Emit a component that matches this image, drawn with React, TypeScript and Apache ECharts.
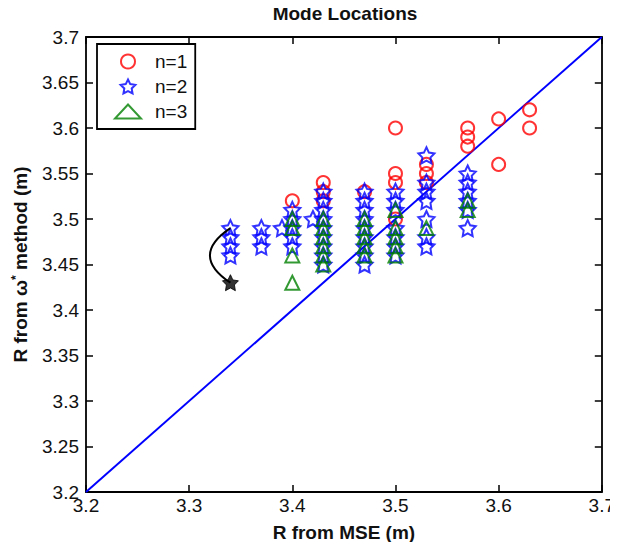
import React, { useEffect, useRef } from "react";
import * as echarts from "echarts";

const xTicks = [3.2, 3.3, 3.4, 3.5, 3.6, 3.7];
const yRange = [3.2, 3.7];

const n1Points: number[][] = [
  [3.4, 3.52],
  [3.43, 3.54], [3.43, 3.53], [3.43, 3.52],
  [3.47, 3.53],
  [3.5, 3.6], [3.5, 3.55], [3.5, 3.54], [3.5, 3.5],
  [3.53, 3.56], [3.53, 3.55], [3.53, 3.54],
  [3.57, 3.6], [3.57, 3.59], [3.57, 3.58],
  [3.6, 3.61], [3.6, 3.56],
  [3.63, 3.62], [3.63, 3.6],
];

const n2Points: number[][] = [
  [3.34, 3.49], [3.34, 3.48], [3.34, 3.47], [3.34, 3.46],
  [3.37, 3.49], [3.37, 3.48], [3.37, 3.47],
  [3.39, 3.49],
  [3.4, 3.51], [3.4, 3.5], [3.4, 3.49], [3.4, 3.48], [3.4, 3.47],
  [3.42, 3.5],
  [3.43, 3.53], [3.43, 3.52], [3.43, 3.51], [3.43, 3.5], [3.43, 3.49], [3.43, 3.48], [3.43, 3.47], [3.43, 3.46], [3.43, 3.45],
  [3.47, 3.53], [3.47, 3.52], [3.47, 3.51], [3.47, 3.5], [3.47, 3.49], [3.47, 3.48], [3.47, 3.47], [3.47, 3.46], [3.47, 3.45],
  [3.5, 3.53], [3.5, 3.52], [3.5, 3.51], [3.5, 3.49], [3.5, 3.48], [3.5, 3.47], [3.5, 3.46],
  [3.53, 3.57], [3.53, 3.54], [3.53, 3.53], [3.53, 3.52], [3.53, 3.5], [3.53, 3.48], [3.53, 3.47],
  [3.57, 3.55], [3.57, 3.54], [3.57, 3.53], [3.57, 3.52], [3.57, 3.51], [3.57, 3.49],
];

const n3Points: number[][] = [
  [3.4, 3.5], [3.4, 3.49], [3.4, 3.46], [3.4, 3.43],
  [3.43, 3.5], [3.43, 3.49], [3.43, 3.48], [3.43, 3.47], [3.43, 3.46], [3.43, 3.45],
  [3.47, 3.5], [3.47, 3.49], [3.47, 3.48], [3.47, 3.47], [3.47, 3.46],
  [3.5, 3.51], [3.5, 3.49], [3.5, 3.48], [3.5, 3.47], [3.5, 3.46],
  [3.53, 3.49],
  [3.57, 3.52], [3.57, 3.51],
];

const highlightStar: number[][] = [[3.34, 3.43]];
const arcEnds: number[][] = [[3.34, 3.49], [3.34, 3.43]];
const diagonal: number[][] = [[3.2, 3.2], [3.7, 3.7]];

const STAR =
  "path://M0,-10L2.94,-4.05L9.51,-3.09L4.76,1.55L5.88,8.09L0,5L-5.88,8.09L-4.76,1.55L-9.51,-3.09L-2.94,-4.05Z";

const FONT = "Liberation Sans";
const FS = 19;

export default function App() {
  const ref = useRef<HTMLDivElement>(null);
  useEffect(() => {
    const chart = echarts.init(ref.current!, null, { renderer: "svg" });
    const axisCommon = {
      axisLine: { show: true, onZero: false, lineStyle: { color: "#000", width: 1.8 } },
      axisTick: { show: true, inside: true, length: 7, lineStyle: { color: "#000", width: 1.5 } },
      splitLine: { show: false },
    };
    chart.setOption({
      animation: false,
      backgroundColor: "#fff",
      title: {
        text: "Mode Locations",
        left: 345,
        textAlign: "center",
        top: 3,
        padding: 0,
        textStyle: { fontFamily: FONT, fontSize: FS, fontWeight: "bold", color: "#111", lineHeight: 21 },
      },
      legend: {
        orient: "vertical",
        left: 97,
        top: 44,
        padding: [7, 8, 7, 17],
        itemGap: 4,
        itemWidth: 26,
        itemHeight: 14,
        borderColor: "#000",
        borderWidth: 1.8,
        backgroundColor: "#fff",
        textStyle: { fontFamily: FONT, fontSize: FS, color: "#111", lineHeight: 21, padding: [0, 0, 0, 9] },
        data: ["n=1", "n=2", "n=3"],
      },
      grid: { left: 86, right: 15, top: 37, bottom: 58, containLabel: false },
      xAxis: [
        {
          type: "value",
          min: xTicks[0],
          max: xTicks[xTicks.length - 1],
          interval: 0.1,
          name: "R from MSE (m)",
          nameLocation: "middle",
          nameGap: 31,
          nameTextStyle: { fontFamily: FONT, fontSize: FS, fontWeight: "bold", color: "#111" },
          axisLabel: { fontFamily: FONT, fontSize: FS, color: "#111", margin: 4 },
          ...axisCommon,
        },
        {
          type: "value",
          position: "top",
          min: xTicks[0],
          max: xTicks[xTicks.length - 1],
          interval: 0.1,
          axisLabel: { show: false },
          ...axisCommon,
        },
      ],
      yAxis: [
        {
          type: "value",
          min: yRange[0],
          max: yRange[1],
          interval: 0.05,
          name: "R from ω{sup|*} method (m)",
          nameLocation: "middle",
          nameGap: 56,
          nameTextStyle: {
            fontFamily: FONT,
            fontSize: FS,
            fontWeight: "bold",
            color: "#111",
            rich: { sup: { fontFamily: FONT, fontSize: 12, fontWeight: "bold", color: "#111", verticalAlign: "top", padding: [0, 0, 8, 0] } },
          },
          axisLabel: { fontFamily: FONT, fontSize: FS, color: "#111", margin: 7 },
          ...axisCommon,
        },
        {
          type: "value",
          position: "right",
          min: yRange[0],
          max: yRange[1],
          interval: 0.05,
          axisLabel: { show: false },
          ...axisCommon,
        },
      ],
      series: [
        {
          type: "line",
          data: diagonal,
          symbol: "none",
          lineStyle: { color: "#0000ff", width: 2 },
          silent: true,
          z: 1,
        },
        {
          name: "n=1",
          type: "scatter",
          data: n1Points,
          symbol: "circle",
          symbolSize: 13,
          itemStyle: { color: "rgba(255,255,255,0)", borderColor: "#ff0000", borderWidth: 2 },
          z: 2,
        },
        {
          name: "n=2",
          type: "scatter",
          data: n2Points,
          symbol: STAR,
          symbolSize: 16,
          itemStyle: { color: "rgba(255,255,255,0)", borderColor: "#0000ff", borderWidth: 2 },
          z: 3,
        },
        {
          name: "n=3",
          type: "scatter",
          data: n3Points,
          symbol: "triangle",
          symbolSize: 14,
          itemStyle: { color: "rgba(255,255,255,0)", borderColor: "#008000", borderWidth: 2 },
          z: 4,
        },
        {
          type: "scatter",
          data: highlightStar,
          symbol: STAR,
          symbolSize: 16,
          itemStyle: { color: "#000", borderColor: "#000", borderWidth: 1 },
          z: 5,
        },
        {
          type: "lines",
          coordinateSystem: "cartesian2d",
          data: [{ coords: arcEnds }],
          symbol: "none",
          lineStyle: { color: "#000", width: 2, curveness: -0.75, opacity: 1 },
          z: 5,
        },
      ],
    });
    return () => chart.dispose();
  }, []);
  return <div ref={ref} style={{ width: 618, height: 550, margin: "-8px" }} />;
}
